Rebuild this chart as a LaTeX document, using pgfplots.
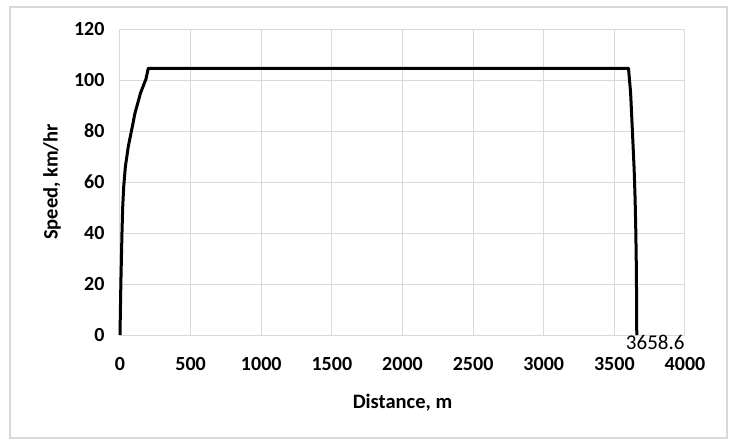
\documentclass[border=0pt]{standalone}
\usepackage{pgfplots}
\pgfplotsset{compat=1.18}
\usepackage{fontspec}
\setmainfont{Carlito}
\definecolor{gridgray}{RGB}{217,217,217}

\begin{document}
\begin{tikzpicture}
% page and outer chart frame (1pt = 1px of the reference)
\path[fill=white] (-120pt,-110pt) rectangle (612pt,335pt);
\draw[gridgray, line width=1.5pt] (-110pt,-103pt) rectangle (607pt,328pt);
\begin{axis}[at={(0pt,0pt)}, anchor=origin,
  scale only axis, width=565pt, height=306pt,
  xmin=0, xmax=4000, ymin=0, ymax=120,
  xtick={0,500,...,4000}, ytick={0,20,...,120},
  grid=major, grid style={gridgray, line width=1pt},
  axis line style={gridgray, line width=1pt},
  major tick length=0pt,
  /pgf/number format/assume math mode=true,
  /pgf/number format/set thousands separator={},
  ticklabel style={font=\fontsize{20}{22}\selectfont\bfseries},
  xticklabel style={yshift=-19pt},
  yticklabel style={xshift=-12pt},
  label style={font=\fontsize{20.5}{22}\selectfont\bfseries},
  xlabel={Distance, m}, ylabel={Speed, km/hr},
  xlabel style={at={(axis description cs:0.5,0)}, anchor=center, yshift=-68pt},
  ylabel style={at={(axis description cs:0,0.5)}, anchor=center, yshift=68pt},
  clip=false]
\addplot[black, line width=3pt, line join=round] coordinates {
  (0,0) (3,10) (6,20) (10,30) (14,40) (19,50) (26,58) (38,66) (59,74)
  (83,80.5) (106,87) (146,95) (184,100.4) (200,104.6)
  (3600,104.6) (3615,95) (3626,82) (3640,65) (3647,53) (3652,40)
  (3656,25) (3658.6,0)};
\node[font=\fontsize{21}{22}\selectfont, anchor=north west, inner sep=0pt,
  xshift=-11pt, yshift=0pt] at (axis cs:3658.6,0) {3658.6};
\end{axis}
\end{tikzpicture}
\end{document}
